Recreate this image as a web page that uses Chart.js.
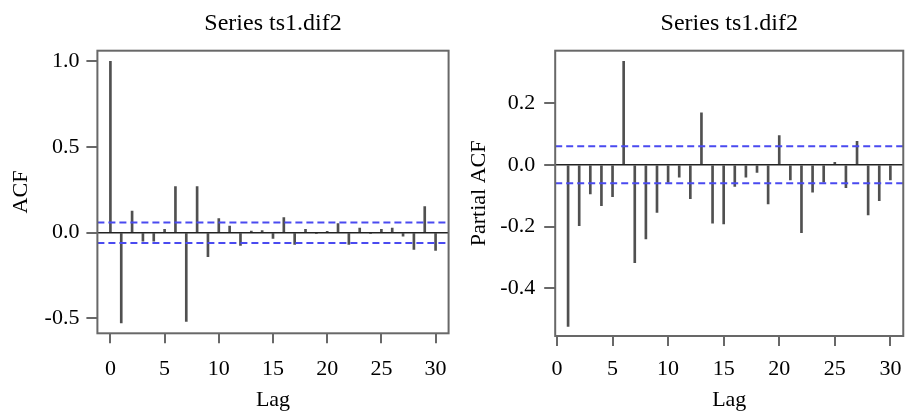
<!DOCTYPE html>
<html lang="en">
<head>
    <meta charset="UTF-8">
    <title>Series ts1.dif2</title>
    <script src="https://cdn.jsdelivr.net/npm/chart.js"></script>
    <style>
        body {
            margin: 0;
            background: #ffffff;
            width: 912px;
            height: 411px;
            overflow: hidden;
            position: relative;
        }
        canvas {
            position: absolute;
            top: 0;
        }
        #acfChart { left: 0; }
        #pacfChart { left: 460px; }
    </style>
</head>
<body>
    <canvas id="acfChart" width="460" height="411"></canvas>
    <canvas id="pacfChart" width="452" height="411"></canvas>

    <script>
        // Data
        const titleText = 'Series ts1.dif2';
        const acfLags = [0, 1, 2, 3, 4, 5, 6, 7, 8, 9, 10, 11, 12, 13, 14, 15, 16, 17, 18, 19, 20, 21, 22, 23, 24, 25, 26, 27, 28, 29, 30];
        const acfValues = [1.0, -0.526, 0.126, -0.049, -0.049, 0.02, 0.269, -0.517, 0.269, -0.14, 0.082, 0.039, -0.074, 0.01, 0.012,
            -0.033, 0.088, -0.068, 0.02, -0.005, 0.008, 0.053, -0.068, 0.027, -0.005, 0.02, 0.027, -0.02, -0.097, 0.152, -0.103];
        const pacfLags = [1, 2, 3, 4, 5, 6, 7, 8, 9, 10, 11, 12, 13, 14, 15, 16, 17, 18, 19, 20, 21, 22, 23, 24, 25, 26, 27, 28, 29, 30];
        const pacfValues = [-0.523, -0.197, -0.094, -0.132, -0.103, 0.335, -0.317, -0.24, -0.154, -0.057, -0.04, -0.11, 0.168, -0.189,
            -0.191, -0.07, -0.04, -0.025, -0.127, 0.094, -0.049, -0.22, -0.089, -0.056, 0.008, -0.074, 0.076, -0.162, -0.116, -0.049];
        const ciLimit = 0.06;
        const lagTicks = [0, 5, 10, 15, 20, 25, 30];
        const acfTicks = [-0.5, 0, 0.5, 1.0];
        const pacfTicks = [-0.4, -0.2, 0, 0.2];

        const serif = '"Liberation Serif", "Times New Roman", serif';
        Chart.defaults.font.family = serif;
        Chart.defaults.color = '#000000';

        // frame round the plot region
        const boxPlugin = {
            id: 'box',
            afterDatasetsDraw(chart) {
                const a = chart.chartArea;
                const ctx = chart.ctx;
                ctx.save();
                ctx.strokeStyle = '#686868';
                ctx.lineWidth = 2;
                ctx.strokeRect(a.left, a.top, a.right - a.left, a.bottom - a.top);
                ctx.restore();
            }
        };

        function makeChart(id, opts) {
            const points = opts.lags.map((lag, i) => ({ x: lag, y: opts.values[i] }));
            const hLine = (y, color, dash, width) => ({
                type: 'line',
                data: [{ x: opts.xMin, y: y }, { x: opts.xMax, y: y }],
                borderColor: color,
                borderWidth: width,
                borderDash: dash,
                pointRadius: 0,
                order: 0
            });
            return new Chart(document.getElementById(id), {
                type: 'bar',
                data: {
                    datasets: [
                        {
                            data: points,
                            backgroundColor: '#505050',
                            borderWidth: 0,
                            barThickness: 2,
                            order: 2
                        },
                        hLine(0, '#222222', [], 1.5),
                        hLine(ciLimit, '#4a4af0', [7, 4], 2),
                        hLine(-ciLimit, '#4a4af0', [7, 4], 2)
                    ]
                },
                options: {
                    responsive: false,
                    animation: false,
                    layout: { padding: { left: 0, right: opts.padRight, top: 0, bottom: 0 } },
                    plugins: {
                        legend: { display: false },
                        tooltip: { enabled: false },
                        title: {
                            display: true,
                            text: titleText,
                            fullSize: false,
                            color: '#000000',
                            font: { size: 24, weight: 'normal', family: serif, lineHeight: 1.2 },
                            padding: { top: 9.2, bottom: 12.7 }
                        }
                    },
                    scales: {
                        x: {
                            type: 'linear',
                            offset: false,
                            min: opts.xMin,
                            max: opts.xMax,
                            afterBuildTicks: s => { s.ticks = lagTicks.map(v => ({ value: v })); },
                            afterFit: s => { s.height = opts.xHeight; },
                            grid: { offset: false, drawOnChartArea: false, drawTicks: true, tickLength: 10, color: '#686868', lineWidth: 2 },
                            border: { display: false },
                            ticks: {
                                autoSkip: false, maxRotation: 0, padding: opts.xTickPad,
                                font: { size: 22 }, color: '#000000',
                                callback: v => String(v)
                            },
                            title: {
                                display: true, text: 'Lag', color: '#000000',
                                font: { size: 22, lineHeight: 1 }, padding: { top: 0, bottom: 0 }
                            }
                        },
                        y: {
                            min: opts.yMin,
                            max: opts.yMax,
                            afterBuildTicks: s => { s.ticks = opts.yTicks.map(v => ({ value: v })); },
                            afterFit: s => { s.width = opts.yWidth; },
                            grid: { drawOnChartArea: false, drawTicks: true, tickLength: 11, color: '#686868', lineWidth: 2 },
                            border: { display: false },
                            ticks: {
                                padding: opts.yTickPad, font: { size: 22 }, color: '#000000',
                                callback: v => v.toFixed(1)
                            },
                            title: {
                                display: true, text: opts.yTitle, color: '#000000',
                                font: { size: 22, lineHeight: 1 }, padding: { top: opts.yTitlePad, bottom: 0 }
                            }
                        }
                    }
                },
                plugins: [boxPlugin]
            });
        }

        makeChart('acfChart', {
            lags: acfLags, values: acfValues, yTicks: acfTicks, yTitle: 'ACF',
            xMin: -1.2, xMax: 31.2, yMin: -0.587, yMax: 1.062,
            yWidth: 97.4, padRight: 4.8, xHeight: 77.7,
            xTickPad: 13, yTickPad: 7, yTitlePad: 9.8
        });

        makeChart('pacfChart', {
            lags: pacfLags, values: pacfValues, yTicks: pacfTicks, yTitle: 'Partial ACF',
            xMin: -0.16, xMax: 31.16, yMin: -0.554, yMax: 0.369,
            yWidth: 95.2, padRight: 3.5, xHeight: 75,
            xTickPad: 10.3, yTickPad: 9, yTitlePad: 8.6
        });
    </script>
</body>
</html>
